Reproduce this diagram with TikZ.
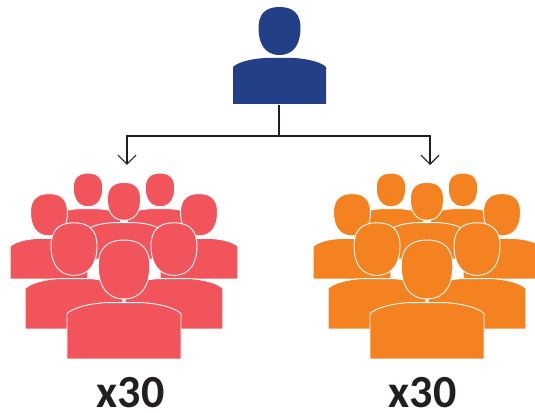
\documentclass[tikz,border=0pt]{standalone}
\usepackage{fontspec}
\setmainfont{Carlito}
\usetikzlibrary{arrows.meta}
\definecolor{bossblue}{HTML}{223F87}
\definecolor{teamred}{HTML}{F2545B}
\definecolor{teamorange}{HTML}{F58220}
\definecolor{inkdark}{HTML}{231F20}
\tikzset{
  figure/.style={draw=white,line width=0.9pt,line join=round},
  countlabel/.style={font=\bfseries\fontsize{46}{46}\selectfont,text=inkdark,inner sep=0pt,anchor=base},
  link/.style={draw=inkdark,line width=1.2pt},
  linkarrow/.style={link,-{Straight Barb[length=9pt,width=18pt,line width=1.2pt]}}
}
\newcommand{\personshape}[6]{%
  \begin{scope}[shift={(#1,{412-#2})},scale=#3]
    \path[#5,fill=#4,xscale=#6] (-46.5,0) -- (-46.5,37)
      .. controls (-42,41.5) and (-30,45) .. (-15,46) -- (15,46)
      .. controls (30,45) and (42,41.5) .. (46.5,37) -- (46.5,0) -- cycle;
    \path[#5,fill=#4] (0,97) .. controls (14,97) and (21,90) .. (21,76)
      .. controls (21,61) and (15,49) .. (0,49)
      .. controls (-15,49) and (-21,61) .. (-21,76)
      .. controls (-21,90) and (-14,97) .. (0,97) -- cycle;
  \end{scope}}
\newcommand{\crowd}[2]{%
  \personshape{#1-36}{241}{0.70}{#2}{figure}{1}
  \personshape{#1+36}{241}{0.70}{#2}{figure}{1}
  \personshape{#1-75}{279}{0.88}{#2}{figure}{0.95}
  \personshape{#1+75}{279}{0.88}{#2}{figure}{0.95}
  \personshape{#1}{259}{0.79}{#2}{figure}{1}
  \personshape{#1-50}{329}{1.095}{#2}{figure}{0.96}
  \personshape{#1+50}{329}{1.095}{#2}{figure}{0.96}
  \personshape{#1}{359}{1.226}{#2}{figure}{1}}
\begin{document}
\begin{tikzpicture}[x=1pt,y=1pt]
  \useasboundingbox (0,0) rectangle (535,412);
  \personshape{279.5}{104}{1}{bossblue}{draw=none}{1}
  \crowd{124}{teamred}
  \crowd{427}{teamorange}
  \node[countlabel] (leftcount) at (130.5,{412-407}) {x30};
  \node[countlabel] (rightcount) at (422.5,{412-407}) {x30};
  \coordinate (boss) at (279,{412-105});
  \coordinate (fork) at (279,{412-136});
  \coordinate (leftend) at (127,{412-165});
  \coordinate (rightend) at (430,{412-165});
  \draw[link] (boss) -- (fork);
  \draw[linkarrow] (fork) -| (leftend);
  \draw[linkarrow] (fork) -| (rightend);
\end{tikzpicture}
\end{document}
